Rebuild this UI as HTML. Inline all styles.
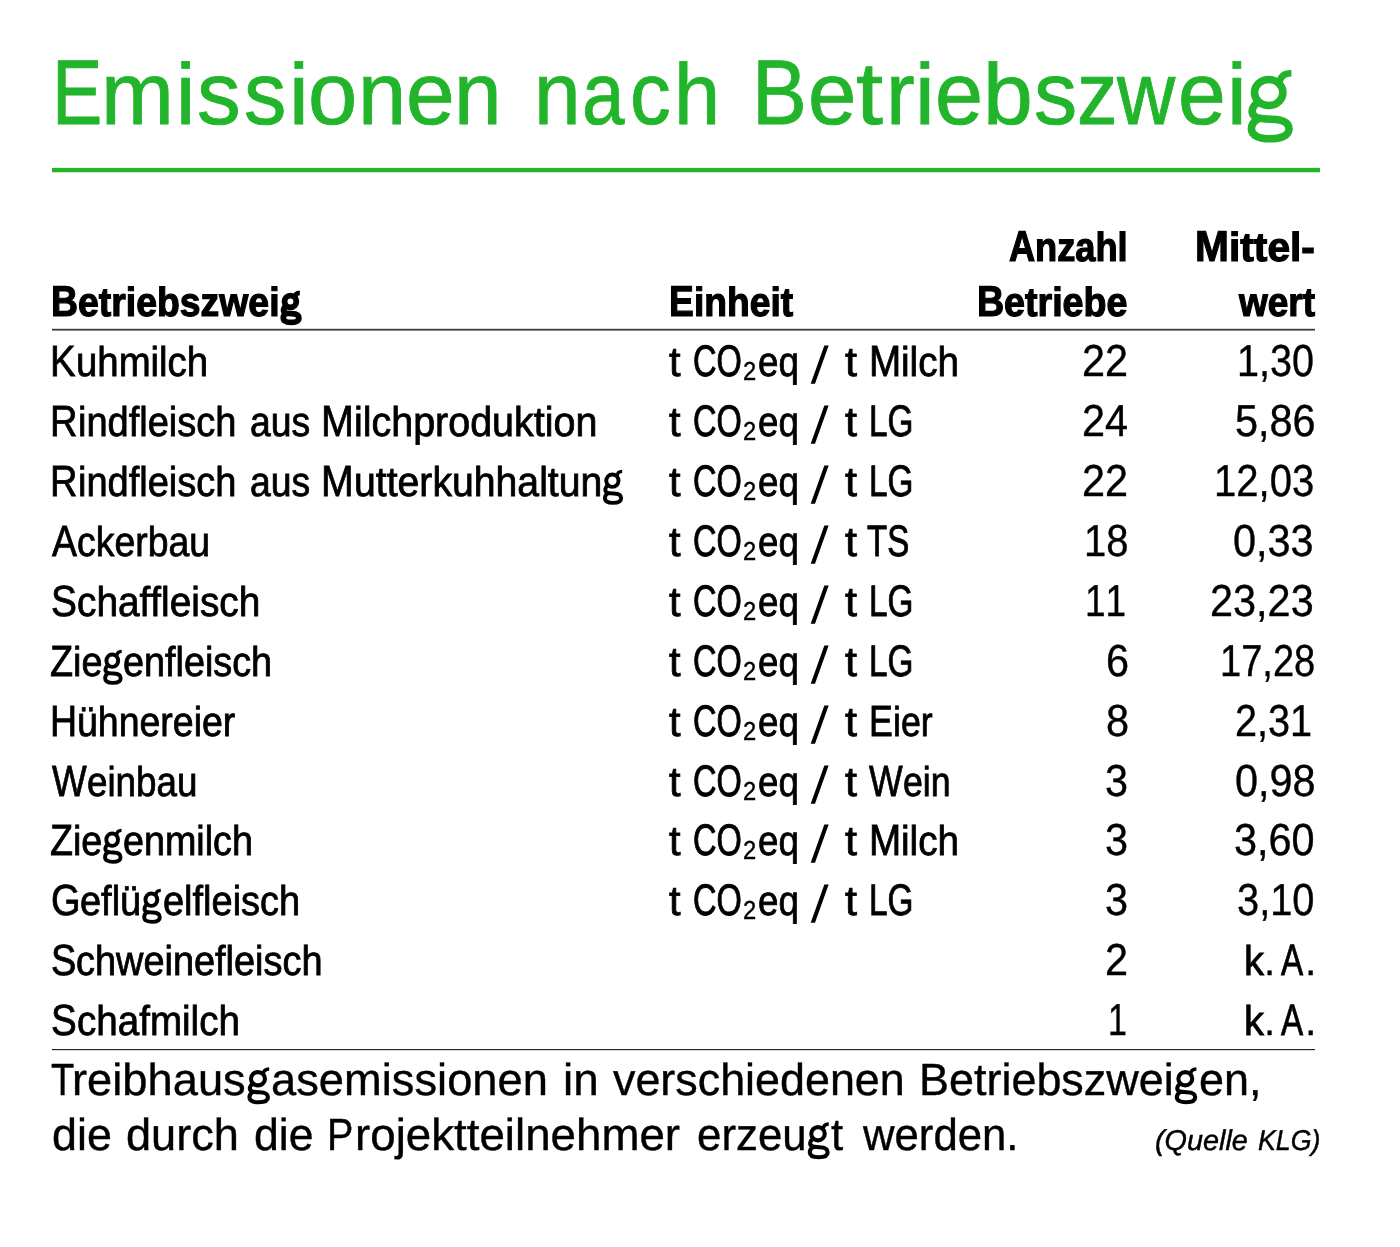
<!DOCTYPE html>
<html lang="de"><head><meta charset="utf-8"><title>Emissionen nach Betriebszweig</title>
<style>
html,body{margin:0;padding:0;background:#fff}
body{width:1400px;height:1247px;position:relative;overflow:hidden;font-family:"Liberation Sans",sans-serif;color:#000}
span{position:absolute;white-space:nowrap;line-height:1;transform-origin:0 0;display:block;font-kerning:none;text-rendering:geometricPrecision}
em{font-style:normal;display:inline-block;transform-origin:0 84.65%}
.r{position:absolute;left:51.5px}
svg{position:absolute;left:0;top:0}
#L{position:absolute;left:0;top:0;width:1400px;height:1247px;will-change:transform}
</style></head><body><div id="L">
<div class="r" style="top:167px;width:1268.5px;height:1px;background:#e6f6e7"></div>
<div class="r" style="top:168px;width:1268.5px;height:4px;background:#22b42a"></div>
<div class="r" style="top:172px;width:1268.5px;height:1px;background:#c4ebc6"></div>
<div class="r" style="top:328px;width:1263.5px;height:1px;background:#d6d6d6"></div>
<div class="r" style="top:329px;width:1263.5px;height:1px;background:#3e3e3e"></div>
<div class="r" style="top:330px;width:1263.5px;height:1px;background:#8a8a8a"></div>
<div class="r" style="top:1049px;width:1263.8px;height:1px;background:#262626"></div>
<div class="r" style="top:1050px;width:1263.8px;height:1px;background:#d8d8d8"></div>
<svg width="1400" height="1247" viewBox="0 0 1400 1247"><g fill="#000" stroke="none"><polygon points="810.7,383.75 815.0,383.75 828.65,345.60 824.35,345.60"/><polygon points="810.7,443.75 815.0,443.75 828.65,405.60 824.35,405.60"/><polygon points="810.7,503.75 815.0,503.75 828.65,465.60 824.35,465.60"/><polygon points="810.7,563.75 815.0,563.75 828.65,525.60 824.35,525.60"/><polygon points="810.7,623.75 815.0,623.75 828.65,585.60 824.35,585.60"/><polygon points="810.7,683.75 815.0,683.75 828.65,645.60 824.35,645.60"/><polygon points="810.7,743.75 815.0,743.75 828.65,705.60 824.35,705.60"/><polygon points="810.7,803.75 815.0,803.75 828.65,765.60 824.35,765.60"/><polygon points="810.7,862.75 815.0,862.75 828.65,824.60 824.35,824.60"/><polygon points="810.7,922.75 815.0,922.75 828.65,884.60 824.35,884.60"/></g><g fill="none" stroke="#000" stroke-linejoin="round"><g transform="translate(283.27 316) scale(0.4145 0.4513)" stroke-width="5.8"><ellipse cx="17.3" cy="-32" rx="14.2" ry="13" vector-effect="non-scaling-stroke"/><path d="M27.9 -41C28.6 -48 32.6 -51.3 40 -51.3" stroke-width="4.93" vector-effect="non-scaling-stroke"/><path stroke-linecap="round" d="M6.8 -22.3C1.1 -19 -1.6 -11.5 3.6 -7.9C6.6 -5.7 12.6 -5.5 20.6 -5.3C30.6 -5 37.6 -2.5 37.6 4.5C37.6 11.5 28.6 14.3 18.9 14.3C7.6 14.3 0 11 0 4.5C0 -0.5 2.6 -3.5 7.1 -5.9" vector-effect="non-scaling-stroke"/></g><g transform="translate(604.93 496) scale(0.4314 0.4793)" stroke-width="3.9"><ellipse cx="17.3" cy="-32" rx="14.2" ry="13" vector-effect="non-scaling-stroke"/><path d="M27.9 -41C28.6 -48 32.6 -51.3 40 -51.3" stroke-width="3.31" vector-effect="non-scaling-stroke"/><path stroke-linecap="round" d="M6.8 -22.3C1.1 -19 -1.6 -11.5 3.6 -7.9C6.6 -5.7 12.6 -5.5 20.6 -5.3C30.6 -5 37.6 -2.5 37.6 4.5C37.6 11.5 28.6 14.3 18.9 14.3C7.6 14.3 0 11 0 4.5C0 -0.5 2.6 -3.5 7.1 -5.9" vector-effect="non-scaling-stroke"/></g><g transform="translate(105.13 676) scale(0.4131 0.4793)" stroke-width="3.9"><ellipse cx="17.3" cy="-32" rx="14.2" ry="13" vector-effect="non-scaling-stroke"/><path d="M27.9 -41C28.6 -48 32.6 -51.3 40 -51.3" stroke-width="3.31" vector-effect="non-scaling-stroke"/><path stroke-linecap="round" d="M6.8 -22.3C1.1 -19 -1.6 -11.5 3.6 -7.9C6.6 -5.7 12.6 -5.5 20.6 -5.3C30.6 -5 37.6 -2.5 37.6 4.5C37.6 11.5 28.6 14.3 18.9 14.3C7.6 14.3 0 11 0 4.5C0 -0.5 2.6 -3.5 7.1 -5.9" vector-effect="non-scaling-stroke"/></g><g transform="translate(105.03 855) scale(0.4122 0.4793)" stroke-width="3.9"><ellipse cx="17.3" cy="-32" rx="14.2" ry="13" vector-effect="non-scaling-stroke"/><path d="M27.9 -41C28.6 -48 32.6 -51.3 40 -51.3" stroke-width="3.31" vector-effect="non-scaling-stroke"/><path stroke-linecap="round" d="M6.8 -22.3C1.1 -19 -1.6 -11.5 3.6 -7.9C6.6 -5.7 12.6 -5.5 20.6 -5.3C30.6 -5 37.6 -2.5 37.6 4.5C37.6 11.5 28.6 14.3 18.9 14.3C7.6 14.3 0 11 0 4.5C0 -0.5 2.6 -3.5 7.1 -5.9" vector-effect="non-scaling-stroke"/></g><g transform="translate(144.16 915) scale(0.4159 0.4793)" stroke-width="3.9"><ellipse cx="17.3" cy="-32" rx="14.2" ry="13" vector-effect="non-scaling-stroke"/><path d="M27.9 -41C28.6 -48 32.6 -51.3 40 -51.3" stroke-width="3.31" vector-effect="non-scaling-stroke"/><path stroke-linecap="round" d="M6.8 -22.3C1.1 -19 -1.6 -11.5 3.6 -7.9C6.6 -5.7 12.6 -5.5 20.6 -5.3C30.6 -5 37.6 -2.5 37.6 4.5C37.6 11.5 28.6 14.3 18.9 14.3C7.6 14.3 0 11 0 4.5C0 -0.5 2.6 -3.5 7.1 -5.9" vector-effect="non-scaling-stroke"/></g><g transform="translate(249.44 1095) scale(0.4928 0.5090)" stroke-width="4.1"><ellipse cx="17.3" cy="-32" rx="14.2" ry="13" vector-effect="non-scaling-stroke"/><path d="M27.9 -41C28.6 -48 32.6 -51.3 40 -51.3" stroke-width="3.48" vector-effect="non-scaling-stroke"/><path stroke-linecap="round" d="M6.8 -22.3C1.1 -19 -1.6 -11.5 3.6 -7.9C6.6 -5.7 12.6 -5.5 20.6 -5.3C30.6 -5 37.6 -2.5 37.6 4.5C37.6 11.5 28.6 14.3 18.9 14.3C7.6 14.3 0 11 0 4.5C0 -0.5 2.6 -3.5 7.1 -5.9" vector-effect="non-scaling-stroke"/></g><g transform="translate(1176.86 1095) scale(0.4883 0.5090)" stroke-width="4.1"><ellipse cx="17.3" cy="-32" rx="14.2" ry="13" vector-effect="non-scaling-stroke"/><path d="M27.9 -41C28.6 -48 32.6 -51.3 40 -51.3" stroke-width="3.48" vector-effect="non-scaling-stroke"/><path stroke-linecap="round" d="M6.8 -22.3C1.1 -19 -1.6 -11.5 3.6 -7.9C6.6 -5.7 12.6 -5.5 20.6 -5.3C30.6 -5 37.6 -2.5 37.6 4.5C37.6 11.5 28.6 14.3 18.9 14.3C7.6 14.3 0 11 0 4.5C0 -0.5 2.6 -3.5 7.1 -5.9" vector-effect="non-scaling-stroke"/></g><g transform="translate(809.79 1150) scale(0.4749 0.5090)" stroke-width="4.1"><ellipse cx="17.3" cy="-32" rx="14.2" ry="13" vector-effect="non-scaling-stroke"/><path d="M27.9 -41C28.6 -48 32.6 -51.3 40 -51.3" stroke-width="3.48" vector-effect="non-scaling-stroke"/><path stroke-linecap="round" d="M6.8 -22.3C1.1 -19 -1.6 -11.5 3.6 -7.9C6.6 -5.7 12.6 -5.5 20.6 -5.3C30.6 -5 37.6 -2.5 37.6 4.5C37.6 11.5 28.6 14.3 18.9 14.3C7.6 14.3 0 11 0 4.5C0 -0.5 2.6 -3.5 7.1 -5.9" vector-effect="non-scaling-stroke"/></g></g><g fill="none" stroke="#22b42a" stroke-linecap="butt" stroke-linejoin="round"><ellipse cx="1268.7" cy="92.5" rx="14.2" ry="13" stroke-width="7.6"/><path d="M1279.3 83.5 C1280 76.5 1284 73.2 1291.4 73.2" stroke-width="6.6"/><path stroke-linecap="round" d="M1258.2 102.2 C1252.5 105.5 1249.8 113 1255 116.6 C1258 118.8 1264 119 1272 119.2 C1282 119.5 1289 122 1289 129 C1289 136 1280 138.8 1270.3 138.8 C1259 138.8 1251.4 135.5 1251.4 129 C1251.4 124 1254 121 1258.5 118.6" stroke-width="7.6"/></g></svg>
<span style="left:51.97px;top:47.00px;font-size:92.00px;transform:scaleX(0.8201);color:#22b42a;-webkit-text-stroke:0.9px #22b42a">E</span>
<span style="left:101.23px;top:50.00px;font-size:88.50px;transform:scaleX(0.9882);color:#22b42a;-webkit-text-stroke:0.9px #22b42a">m</span>
<span style="left:175.55px;top:52.00px;font-size:86.50px;transform:scaleX(0.9990);color:#22b42a;-webkit-text-stroke:0.9px #22b42a">i</span>
<span style="left:197.33px;top:50.00px;font-size:88.50px;transform:scaleX(0.9878);color:#22b42a;-webkit-text-stroke:0.9px #22b42a">s</span>
<span style="left:243.61px;top:50.00px;font-size:88.50px;transform:scaleX(0.9573);color:#22b42a;-webkit-text-stroke:0.9px #22b42a">s</span>
<span style="left:289.41px;top:52.00px;font-size:86.50px;transform:scaleX(1.0267);color:#22b42a;-webkit-text-stroke:0.9px #22b42a">i</span>
<span style="left:307.69px;top:50.00px;font-size:88.50px;transform:scaleX(0.9996);color:#22b42a;-webkit-text-stroke:0.9px #22b42a">o</span>
<span style="left:357.53px;top:50.00px;font-size:88.50px;transform:scaleX(0.9781);color:#22b42a;-webkit-text-stroke:0.9px #22b42a">n</span>
<span style="left:405.71px;top:50.00px;font-size:88.50px;transform:scaleX(0.9882);color:#22b42a;-webkit-text-stroke:0.9px #22b42a">e</span>
<span style="left:453.84px;top:50.00px;font-size:88.50px;transform:scaleX(0.9655);color:#22b42a;-webkit-text-stroke:0.9px #22b42a">n</span>
<span style="left:533.94px;top:50.00px;font-size:88.50px;transform:scaleX(0.9465);color:#22b42a;-webkit-text-stroke:0.9px #22b42a">n</span>
<span style="left:581.76px;top:50.00px;font-size:88.50px;transform:scaleX(0.8609);color:#22b42a;-webkit-text-stroke:0.9px #22b42a">a</span>
<span style="left:630.37px;top:50.00px;font-size:88.50px;transform:scaleX(0.9207);color:#22b42a;-webkit-text-stroke:0.9px #22b42a">c</span>
<span style="left:673.65px;top:52.00px;font-size:86.50px;transform:scaleX(0.9576);color:#22b42a;-webkit-text-stroke:0.9px #22b42a">h</span>
<span style="left:751.98px;top:47.00px;font-size:92.00px;transform:scaleX(0.8933);color:#22b42a;-webkit-text-stroke:0.9px #22b42a">B</span>
<span style="left:807.72px;top:50.00px;font-size:88.50px;transform:scaleX(0.9825);color:#22b42a;-webkit-text-stroke:0.9px #22b42a">e</span>
<span style="left:855.99px;top:50.00px;font-size:88.50px;transform:scaleX(1.0954);color:#22b42a;-webkit-text-stroke:0.9px #22b42a">t</span>
<span style="left:886.31px;top:50.00px;font-size:88.50px;transform:scaleX(0.9730);color:#22b42a;-webkit-text-stroke:0.9px #22b42a">r</span>
<span style="left:914.91px;top:52.00px;font-size:86.50px;transform:scaleX(1.0267);color:#22b42a;-webkit-text-stroke:0.9px #22b42a">i</span>
<span style="left:935.24px;top:50.00px;font-size:88.50px;transform:scaleX(0.9768);color:#22b42a;-webkit-text-stroke:0.9px #22b42a">e</span>
<span style="left:982.87px;top:52.00px;font-size:86.50px;transform:scaleX(1.0350);color:#22b42a;-webkit-text-stroke:0.9px #22b42a">b</span>
<span style="left:1034.09px;top:50.00px;font-size:88.50px;transform:scaleX(0.9756);color:#22b42a;-webkit-text-stroke:0.9px #22b42a">s</span>
<span style="left:1076.63px;top:50.00px;font-size:88.50px;transform:scaleX(0.9154);color:#22b42a;-webkit-text-stroke:0.9px #22b42a">z</span>
<span style="left:1116.67px;top:50.00px;font-size:88.50px;transform:scaleX(0.9104);color:#22b42a;-webkit-text-stroke:0.9px #22b42a">w</span>
<span style="left:1178.25px;top:50.00px;font-size:88.50px;transform:scaleX(0.9710);color:#22b42a;-webkit-text-stroke:0.9px #22b42a">e</span>
<span style="left:1227.41px;top:52.00px;font-size:86.50px;transform:scaleX(1.0267);color:#22b42a;-webkit-text-stroke:0.9px #22b42a">i</span>
<span style="left:51.22px;top:281.00px;font-size:43.21px;transform:scaleX(0.8651);font-weight:700;-webkit-text-stroke:1.2px #000">B</span>
<span style="left:78.21px;top:282.00px;font-size:40.50px;transform:scaleX(0.9230);font-weight:700;-webkit-text-stroke:1.2px #000">etriebszwei</span>
<span style="left:668.73px;top:281.00px;font-size:43.21px;transform:scaleX(0.8601);font-weight:700;-webkit-text-stroke:1.2px #000">E</span>
<span style="left:693.52px;top:282.00px;font-size:40.50px;transform:scaleX(0.9178);font-weight:700;-webkit-text-stroke:1.2px #000">inheit</span>
<span style="left:1008.87px;top:226.00px;font-size:43.21px;transform:scaleX(0.8389);font-weight:700;-webkit-text-stroke:1.2px #000">A</span>
<span style="left:1035.05px;top:227.00px;font-size:40.50px;transform:scaleX(0.8952);font-weight:700;-webkit-text-stroke:1.2px #000">nzahl</span>
<span style="left:976.70px;top:281.00px;font-size:43.21px;transform:scaleX(0.8714);font-weight:700;-webkit-text-stroke:1.2px #000">B</span>
<span style="left:1003.90px;top:282.00px;font-size:40.50px;transform:scaleX(0.9298);font-weight:700;-webkit-text-stroke:1.2px #000">etriebe</span>
<span style="left:1194.76px;top:226.00px;font-size:43.21px;transform:scaleX(0.9418);font-weight:700;-webkit-text-stroke:1.2px #000">M</span>
<span style="left:1228.66px;top:227.00px;font-size:40.50px;transform:scaleX(1.0049);font-weight:700;-webkit-text-stroke:1.2px #000">ittel-</span>
<span style="left:1238.53px;top:282.00px;font-size:40.50px;transform:scaleX(0.9139);font-weight:700;-webkit-text-stroke:1.2px #000">wert</span>
<span style="left:50.07px;top:341.00px;font-size:43.58px;transform:scaleX(0.8800);-webkit-text-stroke:0.8px #000">K</span>
<span style="left:75.65px;top:341.00px;font-size:41.70px;transform:scaleX(0.9196);-webkit-text-stroke:0.8px #000">uhmilch</span>
<span style="left:668.50px;top:341.00px;font-size:41.70px;transform:scaleX(0.9978);-webkit-text-stroke:0.8px #000">t</span>
<span style="left:692.84px;top:340.00px;font-size:44.10px;transform:scaleX(0.7377);-webkit-text-stroke:1.0px #000">CO</span>
<span style="left:742.57px;top:358.00px;font-size:26.00px;transform:scaleX(0.9136);-webkit-text-stroke:0.4px #000">2</span>
<span style="left:757.95px;top:341.00px;font-size:41.70px;transform:scaleX(0.8808);-webkit-text-stroke:0.8px #000">eq</span>
<span style="left:845.42px;top:341.00px;font-size:41.70px;transform:scaleX(1.0377);-webkit-text-stroke:0.8px #000">t</span>
<span style="left:868.60px;top:341.00px;font-size:43.58px;transform:scaleX(0.8870);-webkit-text-stroke:0.8px #000">M</span>
<span style="left:900.80px;top:341.00px;font-size:41.70px;transform:scaleX(0.9270);-webkit-text-stroke:0.8px #000">ilch</span>
<span style="left:1081.50px;top:339.00px;font-size:44.80px;transform:scaleX(0.9250);-webkit-text-stroke:0.4px #000">22</span>
<span style="left:1237.00px;top:339.00px;font-size:44.80px;transform:scaleX(0.8831);-webkit-text-stroke:0.4px #000">1,30</span>
<span style="left:50.09px;top:401.00px;font-size:43.58px;transform:scaleX(0.8726);-webkit-text-stroke:0.8px #000">R</span>
<span style="left:77.55px;top:401.00px;font-size:41.70px;transform:scaleX(0.9118);-webkit-text-stroke:0.8px #000">indfleisch</span>
<span style="left:249.79px;top:401.00px;font-size:41.70px;transform:scaleX(0.8957);-webkit-text-stroke:0.8px #000">aus</span>
<span style="left:321.10px;top:401.00px;font-size:43.58px;transform:scaleX(0.9052);-webkit-text-stroke:0.8px #000">M</span>
<span style="left:353.95px;top:401.00px;font-size:41.70px;transform:scaleX(0.9459);-webkit-text-stroke:0.8px #000">ilchproduktion</span>
<span style="left:668.50px;top:401.00px;font-size:41.70px;transform:scaleX(0.9978);-webkit-text-stroke:0.8px #000">t</span>
<span style="left:692.84px;top:400.00px;font-size:44.10px;transform:scaleX(0.7377);-webkit-text-stroke:1.0px #000">CO</span>
<span style="left:742.57px;top:418.00px;font-size:26.00px;transform:scaleX(0.9136);-webkit-text-stroke:0.4px #000">2</span>
<span style="left:757.95px;top:401.00px;font-size:41.70px;transform:scaleX(0.8808);-webkit-text-stroke:0.8px #000">eq</span>
<span style="left:845.42px;top:401.00px;font-size:41.70px;transform:scaleX(1.0377);-webkit-text-stroke:0.8px #000">t</span>
<span style="left:868.99px;top:400.00px;font-size:44.10px;transform:scaleX(0.7549);-webkit-text-stroke:0.9px #000">LG</span>
<span style="left:1082.15px;top:399.00px;font-size:44.80px;transform:scaleX(0.9250);-webkit-text-stroke:0.4px #000">24</span>
<span style="left:1234.64px;top:399.00px;font-size:44.80px;transform:scaleX(0.9250);-webkit-text-stroke:0.4px #000">5,86</span>
<span style="left:50.09px;top:461.00px;font-size:43.58px;transform:scaleX(0.8726);-webkit-text-stroke:0.8px #000">R</span>
<span style="left:77.55px;top:461.00px;font-size:41.70px;transform:scaleX(0.9118);-webkit-text-stroke:0.8px #000">indfleisch</span>
<span style="left:249.79px;top:461.00px;font-size:41.70px;transform:scaleX(0.8957);-webkit-text-stroke:0.8px #000">aus</span>
<span style="left:321.11px;top:461.00px;font-size:43.58px;transform:scaleX(0.8993);-webkit-text-stroke:0.8px #000">M</span>
<span style="left:353.76px;top:461.00px;font-size:41.70px;transform:scaleX(0.9398);-webkit-text-stroke:0.8px #000">utterkuhhaltun</span>
<span style="left:668.50px;top:461.00px;font-size:41.70px;transform:scaleX(0.9978);-webkit-text-stroke:0.8px #000">t</span>
<span style="left:692.84px;top:460.00px;font-size:44.10px;transform:scaleX(0.7377);-webkit-text-stroke:1.0px #000">CO</span>
<span style="left:742.57px;top:478.00px;font-size:26.00px;transform:scaleX(0.9136);-webkit-text-stroke:0.4px #000">2</span>
<span style="left:757.95px;top:461.00px;font-size:41.70px;transform:scaleX(0.8808);-webkit-text-stroke:0.8px #000">eq</span>
<span style="left:845.42px;top:461.00px;font-size:41.70px;transform:scaleX(1.0377);-webkit-text-stroke:0.8px #000">t</span>
<span style="left:868.99px;top:460.00px;font-size:44.10px;transform:scaleX(0.7549);-webkit-text-stroke:0.9px #000">LG</span>
<span style="left:1081.50px;top:459.00px;font-size:44.80px;transform:scaleX(0.9250);-webkit-text-stroke:0.4px #000">22</span>
<span style="left:1213.77px;top:459.00px;font-size:44.80px;transform:scaleX(0.8944);-webkit-text-stroke:0.4px #000">12,03</span>
<span style="left:52.06px;top:521.00px;font-size:43.58px;transform:scaleX(0.8582);-webkit-text-stroke:0.8px #000">A</span>
<span style="left:77.00px;top:521.00px;font-size:41.70px;transform:scaleX(0.8968);-webkit-text-stroke:0.8px #000">ckerbau</span>
<span style="left:668.50px;top:521.00px;font-size:41.70px;transform:scaleX(0.9978);-webkit-text-stroke:0.8px #000">t</span>
<span style="left:692.84px;top:520.00px;font-size:44.10px;transform:scaleX(0.7377);-webkit-text-stroke:1.0px #000">CO</span>
<span style="left:742.57px;top:538.00px;font-size:26.00px;transform:scaleX(0.9136);-webkit-text-stroke:0.4px #000">2</span>
<span style="left:757.95px;top:521.00px;font-size:41.70px;transform:scaleX(0.8808);-webkit-text-stroke:0.8px #000">eq</span>
<span style="left:845.42px;top:521.00px;font-size:41.70px;transform:scaleX(1.0377);-webkit-text-stroke:0.8px #000">t</span>
<span style="left:866.82px;top:520.00px;font-size:44.10px;transform:scaleX(0.7494);-webkit-text-stroke:0.9px #000">TS</span>
<span style="left:1084.38px;top:519.00px;font-size:44.80px;transform:scaleX(0.8922);-webkit-text-stroke:0.4px #000">18</span>
<span style="left:1233.44px;top:519.00px;font-size:44.80px;transform:scaleX(0.9250);-webkit-text-stroke:0.4px #000">0,33</span>
<span style="left:50.86px;top:581.00px;font-size:43.58px;transform:scaleX(0.8906);-webkit-text-stroke:0.8px #000">S</span>
<span style="left:76.75px;top:581.00px;font-size:41.70px;transform:scaleX(0.9307);-webkit-text-stroke:0.8px #000">chaffleisch</span>
<span style="left:668.50px;top:581.00px;font-size:41.70px;transform:scaleX(0.9978);-webkit-text-stroke:0.8px #000">t</span>
<span style="left:692.84px;top:580.00px;font-size:44.10px;transform:scaleX(0.7377);-webkit-text-stroke:1.0px #000">CO</span>
<span style="left:742.57px;top:598.00px;font-size:26.00px;transform:scaleX(0.9136);-webkit-text-stroke:0.4px #000">2</span>
<span style="left:757.95px;top:581.00px;font-size:41.70px;transform:scaleX(0.8808);-webkit-text-stroke:0.8px #000">eq</span>
<span style="left:845.42px;top:581.00px;font-size:41.70px;transform:scaleX(1.0377);-webkit-text-stroke:0.8px #000">t</span>
<span style="left:868.99px;top:580.00px;font-size:44.10px;transform:scaleX(0.7549);-webkit-text-stroke:0.9px #000">LG</span>
<span style="left:1085.45px;top:579.00px;font-size:44.80px;transform:scaleX(0.8265);-webkit-text-stroke:0.4px #000">11</span>
<span style="left:1210.39px;top:579.00px;font-size:44.80px;transform:scaleX(0.9250);-webkit-text-stroke:0.4px #000">23,23</span>
<span style="left:49.88px;top:641.00px;font-size:43.58px;transform:scaleX(0.8669);-webkit-text-stroke:0.8px #000">Z</span>
<span style="left:72.96px;top:641.00px;font-size:41.70px;transform:scaleX(0.9059);-webkit-text-stroke:0.8px #000">ie</span>
<span style="left:123.37px;top:641.00px;font-size:41.70px;transform:scaleX(0.9059);-webkit-text-stroke:0.8px #000">enfleisch</span>
<span style="left:668.50px;top:641.00px;font-size:41.70px;transform:scaleX(0.9978);-webkit-text-stroke:0.8px #000">t</span>
<span style="left:692.84px;top:640.00px;font-size:44.10px;transform:scaleX(0.7377);-webkit-text-stroke:1.0px #000">CO</span>
<span style="left:742.57px;top:658.00px;font-size:26.00px;transform:scaleX(0.9136);-webkit-text-stroke:0.4px #000">2</span>
<span style="left:757.95px;top:641.00px;font-size:41.70px;transform:scaleX(0.8808);-webkit-text-stroke:0.8px #000">eq</span>
<span style="left:845.42px;top:641.00px;font-size:41.70px;transform:scaleX(1.0377);-webkit-text-stroke:0.8px #000">t</span>
<span style="left:868.99px;top:640.00px;font-size:44.10px;transform:scaleX(0.7549);-webkit-text-stroke:0.9px #000">LG</span>
<span style="left:1105.85px;top:639.00px;font-size:44.80px;transform:scaleX(0.9250);-webkit-text-stroke:0.4px #000">6</span>
<span style="left:1219.89px;top:639.00px;font-size:44.80px;transform:scaleX(0.8499);-webkit-text-stroke:0.4px #000">17,28</span>
<span style="left:50.13px;top:701.00px;font-size:43.58px;transform:scaleX(0.8599);-webkit-text-stroke:0.8px #000">H</span>
<span style="left:77.19px;top:701.00px;font-size:41.70px;transform:scaleX(0.8986);-webkit-text-stroke:0.8px #000">ühnereier</span>
<span style="left:668.50px;top:701.00px;font-size:41.70px;transform:scaleX(0.9978);-webkit-text-stroke:0.8px #000">t</span>
<span style="left:692.84px;top:700.00px;font-size:44.10px;transform:scaleX(0.7377);-webkit-text-stroke:1.0px #000">CO</span>
<span style="left:742.57px;top:718.00px;font-size:26.00px;transform:scaleX(0.9136);-webkit-text-stroke:0.4px #000">2</span>
<span style="left:757.95px;top:701.00px;font-size:41.70px;transform:scaleX(0.8808);-webkit-text-stroke:0.8px #000">eq</span>
<span style="left:845.42px;top:701.00px;font-size:41.70px;transform:scaleX(1.0377);-webkit-text-stroke:0.8px #000">t</span>
<span style="left:868.80px;top:701.00px;font-size:43.58px;transform:scaleX(0.8198);-webkit-text-stroke:0.8px #000">E</span>
<span style="left:892.63px;top:701.00px;font-size:41.70px;transform:scaleX(0.8567);-webkit-text-stroke:0.8px #000">ier</span>
<span style="left:1105.85px;top:699.00px;font-size:44.80px;transform:scaleX(0.9250);-webkit-text-stroke:0.4px #000">8</span>
<span style="left:1235.42px;top:699.00px;font-size:44.80px;transform:scaleX(0.8843);-webkit-text-stroke:0.4px #000">2,31</span>
<span style="left:52.35px;top:761.00px;font-size:43.58px;transform:scaleX(0.8440);-webkit-text-stroke:0.8px #000">W</span>
<span style="left:87.07px;top:761.00px;font-size:41.70px;transform:scaleX(0.8820);-webkit-text-stroke:0.8px #000">einbau</span>
<span style="left:668.50px;top:761.00px;font-size:41.70px;transform:scaleX(0.9978);-webkit-text-stroke:0.8px #000">t</span>
<span style="left:692.84px;top:760.00px;font-size:44.10px;transform:scaleX(0.7377);-webkit-text-stroke:1.0px #000">CO</span>
<span style="left:742.57px;top:778.00px;font-size:26.00px;transform:scaleX(0.9136);-webkit-text-stroke:0.4px #000">2</span>
<span style="left:757.95px;top:761.00px;font-size:41.70px;transform:scaleX(0.8808);-webkit-text-stroke:0.8px #000">eq</span>
<span style="left:845.42px;top:761.00px;font-size:41.70px;transform:scaleX(1.0377);-webkit-text-stroke:0.8px #000">t</span>
<span style="left:869.09px;top:761.00px;font-size:43.58px;transform:scaleX(0.8191);-webkit-text-stroke:0.8px #000">W</span>
<span style="left:902.78px;top:761.00px;font-size:41.70px;transform:scaleX(0.8559);-webkit-text-stroke:0.8px #000">ein</span>
<span style="left:1105.25px;top:759.00px;font-size:44.80px;transform:scaleX(0.9250);-webkit-text-stroke:0.4px #000">3</span>
<span style="left:1234.64px;top:759.00px;font-size:44.80px;transform:scaleX(0.9250);-webkit-text-stroke:0.4px #000">0,98</span>
<span style="left:49.88px;top:820.00px;font-size:43.58px;transform:scaleX(0.8653);-webkit-text-stroke:0.8px #000">Z</span>
<span style="left:72.92px;top:820.00px;font-size:41.70px;transform:scaleX(0.9042);-webkit-text-stroke:0.8px #000">ie</span>
<span style="left:123.23px;top:820.00px;font-size:41.70px;transform:scaleX(0.9042);-webkit-text-stroke:0.8px #000">enmilch</span>
<span style="left:668.50px;top:820.00px;font-size:41.70px;transform:scaleX(0.9978);-webkit-text-stroke:0.8px #000">t</span>
<span style="left:692.84px;top:819.00px;font-size:44.10px;transform:scaleX(0.7377);-webkit-text-stroke:1.0px #000">CO</span>
<span style="left:742.57px;top:837.00px;font-size:26.00px;transform:scaleX(0.9136);-webkit-text-stroke:0.4px #000">2</span>
<span style="left:757.95px;top:820.00px;font-size:41.70px;transform:scaleX(0.8808);-webkit-text-stroke:0.8px #000">eq</span>
<span style="left:845.42px;top:820.00px;font-size:41.70px;transform:scaleX(1.0377);-webkit-text-stroke:0.8px #000">t</span>
<span style="left:868.60px;top:820.00px;font-size:43.58px;transform:scaleX(0.8870);-webkit-text-stroke:0.8px #000">M</span>
<span style="left:900.80px;top:820.00px;font-size:41.70px;transform:scaleX(0.9270);-webkit-text-stroke:0.8px #000">ilch</span>
<span style="left:1105.25px;top:818.00px;font-size:44.80px;transform:scaleX(0.9250);-webkit-text-stroke:0.4px #000">3</span>
<span style="left:1233.99px;top:818.00px;font-size:44.80px;transform:scaleX(0.9250);-webkit-text-stroke:0.4px #000">3,60</span>
<span style="left:50.58px;top:880.00px;font-size:43.58px;transform:scaleX(0.8718);-webkit-text-stroke:0.8px #000">G</span>
<span style="left:80.13px;top:880.00px;font-size:41.70px;transform:scaleX(0.9111);-webkit-text-stroke:0.8px #000">eflü</span>
<span style="left:162.52px;top:880.00px;font-size:41.70px;transform:scaleX(0.9111);-webkit-text-stroke:0.8px #000">elfleisch</span>
<span style="left:668.50px;top:880.00px;font-size:41.70px;transform:scaleX(0.9978);-webkit-text-stroke:0.8px #000">t</span>
<span style="left:692.84px;top:879.00px;font-size:44.10px;transform:scaleX(0.7377);-webkit-text-stroke:1.0px #000">CO</span>
<span style="left:742.57px;top:897.00px;font-size:26.00px;transform:scaleX(0.9136);-webkit-text-stroke:0.4px #000">2</span>
<span style="left:757.95px;top:880.00px;font-size:41.70px;transform:scaleX(0.8808);-webkit-text-stroke:0.8px #000">eq</span>
<span style="left:845.42px;top:880.00px;font-size:41.70px;transform:scaleX(1.0377);-webkit-text-stroke:0.8px #000">t</span>
<span style="left:868.99px;top:879.00px;font-size:44.10px;transform:scaleX(0.7549);-webkit-text-stroke:0.9px #000">LG</span>
<span style="left:1105.25px;top:878.00px;font-size:44.80px;transform:scaleX(0.9250);-webkit-text-stroke:0.4px #000">3</span>
<span style="left:1237.13px;top:878.00px;font-size:44.80px;transform:scaleX(0.8886);-webkit-text-stroke:0.4px #000">3,10</span>
<span style="left:51.18px;top:940.00px;font-size:43.58px;transform:scaleX(0.8701);-webkit-text-stroke:0.8px #000">S</span>
<span style="left:76.47px;top:940.00px;font-size:41.70px;transform:scaleX(0.9093);-webkit-text-stroke:0.8px #000">chweinefleisch</span>
<span style="left:1104.55px;top:938.00px;font-size:44.80px;transform:scaleX(0.9250);-webkit-text-stroke:0.4px #000">2</span>
<span style="left:1243.98px;top:940.00px;font-size:41.70px;transform:scaleX(0.9596);-webkit-text-stroke:0.8px #000">k</span>
<span style="left:1264.10px;top:940.00px;font-size:41.70px;transform:scaleX(0.9669);-webkit-text-stroke:0.3px #000">.</span>
<span style="left:1281.40px;top:939.00px;font-size:44.10px;transform:scaleX(0.7526);-webkit-text-stroke:0.8px #000">A</span>
<span style="left:1304.53px;top:940.00px;font-size:41.70px;transform:scaleX(0.9875);-webkit-text-stroke:0.3px #000">.</span>
<span style="left:51.16px;top:1000.00px;font-size:43.58px;transform:scaleX(0.8851);-webkit-text-stroke:0.8px #000">S</span>
<span style="left:76.89px;top:1000.00px;font-size:41.70px;transform:scaleX(0.9249);-webkit-text-stroke:0.8px #000">chafmilch</span>
<span style="left:1107.63px;top:998.00px;font-size:44.80px;transform:scaleX(0.7585);-webkit-text-stroke:0.4px #000">1</span>
<span style="left:1243.98px;top:1000.00px;font-size:41.70px;transform:scaleX(0.9596);-webkit-text-stroke:0.8px #000">k</span>
<span style="left:1264.10px;top:1000.00px;font-size:41.70px;transform:scaleX(0.9669);-webkit-text-stroke:0.3px #000">.</span>
<span style="left:1281.40px;top:999.00px;font-size:44.10px;transform:scaleX(0.7526);-webkit-text-stroke:0.8px #000">A</span>
<span style="left:1304.53px;top:1000.00px;font-size:41.70px;transform:scaleX(0.9875);-webkit-text-stroke:0.3px #000">.</span>
<span style="left:50.67px;top:1057.00px;font-size:45.00px;transform:scaleX(0.8480);-webkit-text-stroke:0.4px #000">T</span>
<span style="left:72.47px;top:1057.00px;font-size:45.00px;transform:scaleX(1.0063);-webkit-text-stroke:0.4px #000">reibhaus</span>
<span style="left:271.36px;top:1057.00px;font-size:45.00px;transform:scaleX(1.0063);-webkit-text-stroke:0.4px #000">asemissionen</span>
<span style="left:563.24px;top:1057.00px;font-size:45.00px;transform:scaleX(1.0171);-webkit-text-stroke:0.4px #000">in</span>
<span style="left:613.40px;top:1057.00px;font-size:45.00px;transform:scaleX(0.9967);-webkit-text-stroke:0.4px #000">verschiedenen</span>
<span style="left:918.89px;top:1057.00px;font-size:45.00px;transform:scaleX(0.9985);-webkit-text-stroke:0.4px #000">Betriebszwei</span>
<span style="left:1198.60px;top:1057.00px;font-size:45.00px;transform:scaleX(0.9985);-webkit-text-stroke:0.4px #000">en,</span>
<span style="left:51.80px;top:1112.00px;font-size:45.00px;transform:scaleX(0.9961);-webkit-text-stroke:0.4px #000">die</span>
<span style="left:126.09px;top:1112.00px;font-size:45.00px;transform:scaleX(1.0034);-webkit-text-stroke:0.4px #000">durch</span>
<span style="left:253.80px;top:1112.00px;font-size:45.00px;transform:scaleX(0.9909);-webkit-text-stroke:0.4px #000">die</span>
<span style="left:327.28px;top:1112.00px;font-size:45.00px;transform:scaleX(0.8797);-webkit-text-stroke:0.4px #000">P</span>
<span style="left:354.65px;top:1112.00px;font-size:45.00px;transform:scaleX(1.0154);-webkit-text-stroke:0.4px #000">rojektteilnehmer</span>
<span style="left:696.82px;top:1112.00px;font-size:45.00px;transform:scaleX(0.9749);-webkit-text-stroke:0.4px #000">erzeu</span>
<span style="left:830.97px;top:1112.00px;font-size:45.00px;transform:scaleX(0.9749);-webkit-text-stroke:0.4px #000">t</span>
<span style="left:863.08px;top:1112.00px;font-size:45.00px;transform:scaleX(0.9712);-webkit-text-stroke:0.4px #000">werden.</span>
<span style="left:1154.88px;top:1127.00px;font-size:28.60px;transform:scaleX(1.0078);font-style:italic;-webkit-text-stroke:0.45px #000">(Quelle</span>
<span style="left:1257.79px;top:1127.00px;font-size:28.60px;transform:scaleX(0.9345);font-style:italic;-webkit-text-stroke:0.45px #000">KLG)</span>
</div></body></html>
